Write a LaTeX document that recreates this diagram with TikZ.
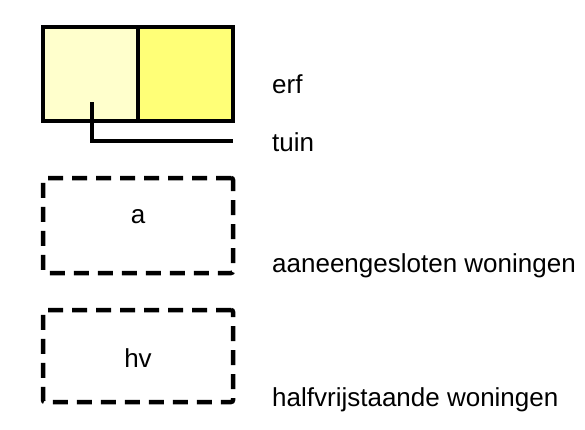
\documentclass[tikz,border=0pt]{standalone}
\usepackage{fontspec}
\setmainfont{Liberation Sans}
\begin{document}
\begin{tikzpicture}[x=1pt,y=-1pt,
  lbl/.style={anchor=west,inner sep=0pt,font=\fontsize{26}{30}\selectfont},
  solidbox/.style={draw=black,line width=3.2pt},
  dashbox/.style={draw=black,line width=4.5pt,dash pattern=on 15pt off 9pt,rounded corners=2pt},
  intext/.style={inner sep=0pt,font=\fontsize{26}{30}\selectfont}]
\useasboundingbox (0,0) rectangle (585,429);
\fill[fill={rgb,255:red,255;green,255;blue,204}] (43,27) rectangle (138,121);
\fill[fill={rgb,255:red,255;green,255;blue,119}] (138,27) rectangle (233,121);
\node[solidbox,minimum width=190pt,minimum height=94pt,inner sep=0pt] (erfbox) at (138,74) {};
\draw[line width=3.2pt] (138,27) -- (138,121);
\coordinate (tuinstart) at (92,102);
\coordinate (tuinend) at (233,141);
\draw[line width=3.2pt] (tuinstart) |- (tuinend);
\node[dashbox,minimum width=190pt,minimum height=95pt,inner sep=0pt] (abox) at (138,225.5) {};
\node[intext] (atext) at (138,217) {a};
\node[dashbox,minimum width=190pt,minimum height=92pt,inner sep=0pt] (hvbox) at (138,356) {};
\node[intext] (hvtext) at (138,358) {hv};
\node[lbl] (erf) at (272,84) {erf};
\node[lbl] (tuin) at (272,142) {tuin};
\node[lbl] (aan) at (272,266) {aaneengesloten woningen};
\node[lbl] (half) at (272,400) {halfvrijstaande woningen};
\end{tikzpicture}
\end{document}
